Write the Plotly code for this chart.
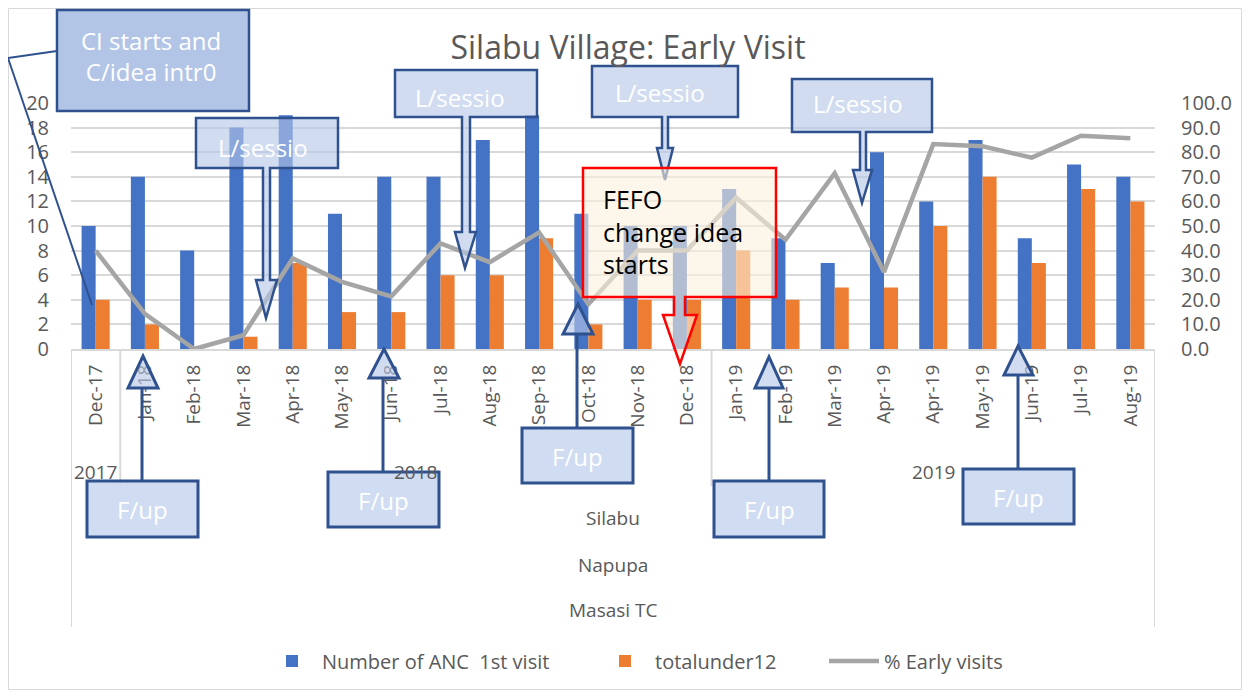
import plotly.graph_objects as go

# ---------------- data ----------------
months = ["Dec-17", "Jan-18", "Feb-18", "Mar-18", "Apr-18", "May-18", "Jun-18",
          "Jul-18", "Aug-18", "Sep-18", "Oct-18", "Nov-18", "Dec-18",
          "Jan-19", "Feb-19", "Mar-19", "Apr-19", "Apr-19", "May-19", "Jun-19",
          "Jul-19", "Aug-19"]
anc_first = [10, 14, 8, 18, 19, 11, 14, 14, 17, 19, 11, 10, 10,
             13, 9, 7, 16, 12, 17, 9, 15, 14]
under12 = [4, 2, 0, 1, 7, 3, 3, 6, 6, 9, 2, 4, 4,
           8, 4, 5, 5, 10, 14, 7, 13, 12]
pct_early = [40.0, 14.3, 0.0, 5.6, 36.8, 27.3, 21.4, 42.9, 35.3, 47.4, 18.2, 40.0, 40.0,
             61.5, 44.4, 71.4, 31.3, 83.3, 82.4, 77.8, 86.7, 85.7]
years = ["2017", "2018", "2019"]
year_counts = [1, 12, 9]
outer_levels = ["Silabu", "Napupa", "Masasi TC"]
left_ticks = list(range(0, 21, 2))
right_ticks = list(range(0, 101, 10))

# ---------------- geometry (screen pixels; page body has an 8px margin) ----------------
OFF = 8
FIG_W, FIG_H = 1250 - 2 * OFF, 698 - 2 * OFF
X0, W, YB, H = 71, 1084, 349, 246      # plot area in screen pixels
def px(x):
    return (x - X0) / W
def py(y):
    return (YB - y) / H

FONT = "Open Sans"
GREY_TXT = "#595959"
BORDER = "#2f528f"
FILL = "rgba(180,199,231,0.62)"
FILL_DARK = "rgba(143,170,220,0.68)"

xs = list(range(len(months)))

fig = go.Figure()
fig.add_trace(go.Bar(x=xs, y=anc_first, name="Number of ANC  1st visit", legend="legend",
                     marker=dict(color="#4472c4", line=dict(width=0))))
fig.add_trace(go.Bar(x=xs, y=under12, name="totalunder12", legend="legend2",
                     marker=dict(color="#ed7d31", line=dict(width=0))))
fig.add_trace(go.Scatter(x=xs, y=pct_early, name="% Early visits", yaxis="y2", legend="legend3",
                         mode="lines", line=dict(color="#a5a5a5", width=4.5)))

shapes = []
annots = []

def text_at(x, y, text, size=24, color="white", **kw):
    d = dict(x=px(x), y=py(y), xref="paper", yref="paper", text=text, showarrow=False,
             xanchor="center", yanchor="middle",
             font=dict(family=FONT, size=size, color=color))
    d.update(kw)
    annots.append(d)

def path(points, close=True):
    s = "M " + " L ".join(f"{px(x):.5f},{py(y):.5f}" for x, y in points)
    return s + (" Z" if close else "")

def down_callout(bx0, by0, bx1, by1, sx0, sx1, hy, hx0, hx1, tx, ty, text, tcx, tcy):
    pts = [(bx0, by0), (bx1, by0), (bx1, by1), (sx1, by1), (sx1, hy), (hx1, hy),
           (tx, ty), (hx0, hy), (sx0, hy), (sx0, by1), (bx0, by1)]
    shapes.append(dict(type="path", xref="paper", yref="paper", path=path(pts),
                       fillcolor=FILL, line=dict(color=BORDER, width=2.5), layer="above"))
    text_at(tcx, tcy, text)

def up_callout(bx0, by0, bx1, by1, cx, hb, hx0, hx1, tx, ty, text="F/up"):
    shapes.append(dict(type="path", xref="paper", yref="paper",
                       path=path([(bx0, by0), (bx1, by0), (bx1, by1), (bx0, by1)]),
                       fillcolor="rgba(200,214,238,0.85)", line=dict(color=BORDER, width=3), layer="above"))
    shapes.append(dict(type="path", xref="paper", yref="paper",
                       path=path([(cx, by0), (cx, hb)], close=False),
                       line=dict(color=BORDER, width=3), layer="above"))
    shapes.append(dict(type="path", xref="paper", yref="paper",
                       path=path([(hx0, hb), (hx1, hb), (tx, ty)]),
                       fillcolor=FILL, line=dict(color=BORDER, width=3), layer="above"))
    text_at((bx0 + bx1) / 2, (by0 + by1) / 2 + 1, text)

# outer chart border
shapes.append(dict(type="rect", xref="paper", yref="paper", x0=px(OFF + 0.5), x1=px(1250 - OFF - 0.5),
                   y0=py(698 - OFF - 0.5), y1=py(OFF + 0.5),
                   line=dict(color="#d9d9d9", width=1), layer="below"))

# category axis group borders
n = len(months)
shapes.append(dict(type="line", xref="x", yref="paper", x0=-0.5, x1=-0.5, y0=0, y1=py(627),
                   line=dict(color="#d9d9d9", width=2), layer="below"))
shapes.append(dict(type="line", xref="x", yref="paper", x0=n - 0.5, x1=n - 0.5, y0=0, y1=py(627),
                   line=dict(color="#d9d9d9", width=2), layer="below"))
start = 0
for yr, cnt in zip(years, year_counts):
    end = start + cnt
    annots.append(dict(x=(start + end - 1) / 2, xref="x", y=py(472), yref="paper", text=yr,
                       xanchor="center", yanchor="middle",
                       showarrow=False, font=dict(family=FONT, size=19, color=GREY_TXT)))
    if end < n:
        shapes.append(dict(type="line", xref="x", yref="paper", x0=end - 0.5, x1=end - 0.5,
                           y0=0, y1=py(486), line=dict(color="#d9d9d9", width=2), layer="below"))
    start = end
for lab, yy in zip(outer_levels, [518, 565, 610]):
    annots.append(dict(x=(n - 1) / 2, xref="x", y=py(yy), yref="paper", text=lab,
                       xanchor="center", yanchor="middle",
                       showarrow=False, font=dict(family=FONT, size=19, color=GREY_TXT)))

# "CI starts" callout with connector
shapes.append(dict(type="path", xref="paper", yref="paper",
                   path=path([(57, 51), (8, 58), (92, 305)], close=False),
                   line=dict(color=BORDER, width=2), layer="above"))
shapes.append(dict(type="path", xref="paper", yref="paper",
                   path=path([(57, 10), (249, 10), (249, 111), (57, 111)]),
                   fillcolor=FILL_DARK, line=dict(color=BORDER, width=2.5), layer="above"))
text_at(151, 56, "CI starts and<br>C/idea intr0")

# L/sessio callouts
down_callout(196, 118, 338, 168, 263, 270, 280, 256, 277, 266, 318, "L/sessio", 263, 147)
down_callout(395, 70, 537, 117, 462, 470, 232, 455, 476, 465, 268, "L/sessio", 460, 97)
down_callout(592, 66, 738, 117, 662, 668, 148, 657, 673, 665, 180, "L/sessio", 660, 93)
down_callout(792, 79, 932, 132, 860, 866, 170, 853, 872, 862, 203, "L/sessio", 858, 103)

# FEFO box with red arrow
shapes.append(dict(type="path", xref="paper", yref="paper",
                   path=path([(583, 168), (776, 168), (776, 297), (685, 297), (685, 315), (697, 315),
                              (680, 364), (663, 315), (674, 315), (674, 297), (583, 297)]),
                   fillcolor="rgba(251,240,220,0.6)", line=dict(color="#ff0000", width=2.5), layer="above"))
text_at(601, 231, "FEFO<br>change idea<br>starts", size=25, color="black",
        xanchor="left", align="left")

# F/up callouts
up_callout(87, 481, 198, 537, 142, 388, 128, 158, 143, 356)
up_callout(328, 472, 439, 527, 383, 378, 369, 399, 384, 349)
up_callout(522, 428, 633, 483, 577, 334, 563, 593, 578, 304)
up_callout(714, 481, 824, 537, 769, 388, 755, 783, 769, 357)
up_callout(963, 469, 1074, 524, 1018, 375, 1004, 1033, 1018, 346)

def leg(text_start):
    return dict(orientation="h", x=px(text_start - 58), xanchor="left", y=py(661), yanchor="middle",
                font=dict(family=FONT, size=20, color=GREY_TXT), itemwidth=50,
                bgcolor="rgba(0,0,0,0)")

fig.update_layout(
    width=FIG_W, height=FIG_H,
    margin=dict(l=X0 - OFF, r=FIG_W - (X0 - OFF + W), t=(YB - H) - OFF, b=FIG_H - (YB - OFF),
                autoexpand=False),
    paper_bgcolor="white", plot_bgcolor="white",
    barmode="group", bargap=0.43, bargroupgap=0,
    title=dict(text="Silabu Village: Early Visit", x=px(628), xref="paper", xanchor="center",
               y=1 - (48 - OFF) / FIG_H, yanchor="middle",
               font=dict(family=FONT, size=32, color=GREY_TXT)),
    font=dict(family=FONT, color=GREY_TXT),
    xaxis=dict(tickmode="array", tickvals=xs, ticktext=months, tickangle=-90,
               range=[-0.5, n - 0.5], showgrid=False, showline=True, linecolor="#d9d9d9",
               linewidth=2, ticks="", ticklabelstandoff=6,
               tickfont=dict(family=FONT, size=19, color=GREY_TXT)),
    yaxis=dict(range=[0, 20], tickvals=left_ticks, showgrid=True, gridcolor="#d9d9d9",
               gridwidth=1.5, zeroline=False, ticks="", ticklabelstandoff=21,
               tickfont=dict(family=FONT, size=20, color=GREY_TXT)),
    yaxis2=dict(range=[0, 100], tickvals=right_ticks, tickformat=".1f", overlaying="y",
                side="right", showgrid=False, zeroline=False, ticks="", ticklabelstandoff=25,
                tickfont=dict(family=FONT, size=20, color=GREY_TXT)),
    legend=leg(320), legend2=leg(653), legend3=leg(882),
    shapes=shapes, annotations=annots, showlegend=True,
)

fig.write_html("out.html")
